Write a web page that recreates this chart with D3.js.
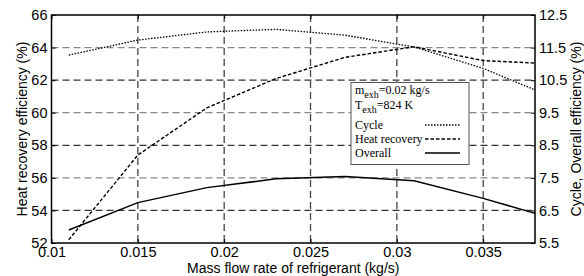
<!DOCTYPE html>
<html>
<head>
<meta charset="utf-8">
<script src="https://cdn.jsdelivr.net/npm/d3@7/dist/d3.min.js"></script>
<style>
  html, body { margin: 0; padding: 0; background: #fff; }
  svg { display: block; }
</style>
</head>
<body>
<svg id="chart"></svg>
<script>
const flowRates = [0.011, 0.015, 0.019, 0.023, 0.027, 0.031, 0.035, 0.038];
const heatRecovery = [52.2, 57.4, 60.3, 62.1, 63.4, 64.05, 63.2, 63.05];
const cycleEff = [11.27, 11.73, 11.98, 12.06, 11.88, 11.52, 10.86, 10.2];
const overallEff = [5.9, 6.74, 7.2, 7.47, 7.54, 7.41, 6.87, 6.41];

const xTicks = [0.01, 0.015, 0.02, 0.025, 0.03, 0.035];
const leftTicks = [52, 54, 56, 58, 60, 62, 64, 66];
const rightTicks = [5.5, 6.5, 7.5, 8.5, 9.5, 10.5, 11.5, 12.5];

const width = 584;
const height = 276;
const plot = { left: 51.5, right: 535, top: 15, bottom: 243 };

const sel = d3.select('#chart').attr('width', width).attr('height', height);

const xScale = d3.scaleLinear().domain([0.01, 0.038]).range([plot.left, plot.right]);
const yLeft = d3.scaleLinear().domain([52, 66]).range([plot.bottom, plot.top]);
const yRight = d3.scaleLinear().domain([5.5, 12.5]).range([plot.bottom, plot.top]);

const sansFont = 'Liberation Sans, Arial, sans-serif';
const serifFont = 'Liberation Serif, Times New Roman, serif';

// grid lines, alternate shades like the original
const grid = sel.append('g');
leftTicks.slice(1, -1).forEach((t, i) => {
  grid.append('line')
    .attr('x1', plot.left).attr('x2', plot.right)
    .attr('y1', yLeft(t)).attr('y2', yLeft(t))
    .attr('stroke', i % 2 === 0 ? '#333' : '#888')
    .attr('stroke-width', 1.3)
    .attr('stroke-dasharray', '7,4');
});
xTicks.slice(1).forEach(t => {
  grid.append('line')
    .attr('x1', xScale(t)).attr('x2', xScale(t))
    .attr('y1', plot.top).attr('y2', plot.bottom)
    .attr('stroke', '#444')
    .attr('stroke-width', 1.3)
    .attr('stroke-dasharray', '7,4');
});

// axes with inward ticks
const bottomAxis = d3.axisBottom(xScale).tickValues(xTicks).tickSizeInner(-4).tickSizeOuter(0)
  .tickPadding(4).tickFormat(d3.format('~g'));
const topAxis = d3.axisTop(xScale).tickValues(xTicks).tickSizeInner(-4).tickSizeOuter(0).tickFormat('');
const leftAxis = d3.axisLeft(yLeft).tickValues(leftTicks).tickSizeInner(-4).tickSizeOuter(0).tickPadding(4);
const rightAxis = d3.axisRight(yRight).tickValues(rightTicks).tickSizeInner(-4).tickSizeOuter(0)
  .tickPadding(4).tickFormat(d3.format('.1f'));

function styleAxis(g) {
  g.select('.domain').remove();
  g.selectAll('line').attr('stroke', '#000');
  g.selectAll('text').attr('font-family', sansFont).attr('font-size', 14.5).attr('fill', '#000');
}

sel.append('g').attr('transform', `translate(0,${plot.bottom})`).call(bottomAxis).call(styleAxis);
sel.append('g').attr('transform', `translate(0,${plot.top})`).call(topAxis).call(styleAxis);
sel.append('g').attr('transform', `translate(${plot.left},0)`).call(leftAxis).call(styleAxis);
sel.append('g').attr('transform', `translate(${plot.right},0)`).call(rightAxis).call(styleAxis);

// frame
sel.append('rect')
  .attr('x', plot.left).attr('y', plot.top)
  .attr('width', plot.right - plot.left).attr('height', plot.bottom - plot.top)
  .attr('fill', 'none').attr('stroke', '#000').attr('stroke-width', 1.5);

// series
const series = [
  { name: 'Cycle', values: cycleEff, y: yRight, dash: '1.5,1.5', w: 1.3 },
  { name: 'Heat recovery', values: heatRecovery, y: yLeft, dash: '3.5,2', w: 1.4 },
  { name: 'Overall', values: overallEff, y: yRight, dash: null, w: 1.5 },
];

series.forEach(s => {
  const line = d3.line().x((d, i) => xScale(flowRates[i])).y(d => s.y(d));
  sel.append('path')
    .attr('d', line(s.values))
    .attr('fill', 'none')
    .attr('stroke', '#000')
    .attr('stroke-width', s.w)
    .attr('stroke-dasharray', s.dash);
});

// legend
const lg = sel.append('g');
lg.append('rect')
  .attr('x', 351).attr('y', 82.5).attr('width', 118).attr('height', 82)
  .attr('fill', '#fff').attr('stroke', '#555').attr('stroke-width', 1);

const t1 = lg.append('text').attr('x', 355).attr('y', 94)
  .attr('font-family', serifFont).attr('font-size', 12);
t1.append('tspan').text('m');
t1.append('tspan').attr('dy', 4).attr('font-size', 10).text('exh');
t1.append('tspan').attr('dy', -4).text('=0.02 kg/s');

const t2 = lg.append('text').attr('x', 355).attr('y', 109)
  .attr('font-family', serifFont).attr('font-size', 12);
t2.append('tspan').text('T');
t2.append('tspan').attr('dy', 4).attr('font-size', 10).text('exh');
t2.append('tspan').attr('dy', -4).text('=824 K');

const legendRows = [129, 143, 157];
series.forEach((s, i) => {
  lg.append('text').attr('x', 355).attr('y', legendRows[i])
    .attr('font-family', serifFont).attr('font-size', 12).text(s.name);
  lg.append('line')
    .attr('x1', 425).attr('x2', 460)
    .attr('y1', legendRows[i] - 4).attr('y2', legendRows[i] - 4)
    .attr('stroke', '#000').attr('stroke-width', s.w)
    .attr('stroke-dasharray', s.dash);
});

// axis titles
sel.append('text')
  .attr('x', (plot.left + plot.right) / 2).attr('y', 273)
  .attr('text-anchor', 'middle')
  .attr('font-family', sansFont).attr('font-size', 14)
  .text('Mass flow rate of refrigerant (kg/s)');

sel.append('text')
  .attr('transform', `translate(27,${(plot.top + plot.bottom) / 2}) rotate(-90)`)
  .attr('text-anchor', 'middle')
  .attr('font-family', sansFont).attr('font-size', 14)
  .text('Heat recovery efficiency (%)');

sel.append('text')
  .attr('transform', `translate(581,${(plot.top + plot.bottom) / 2}) rotate(-90)`)
  .attr('text-anchor', 'middle')
  .attr('font-family', sansFont).attr('font-size', 14)
  .text('Cycle, Overall efficiency (%)');
</script>
</body>
</html>
